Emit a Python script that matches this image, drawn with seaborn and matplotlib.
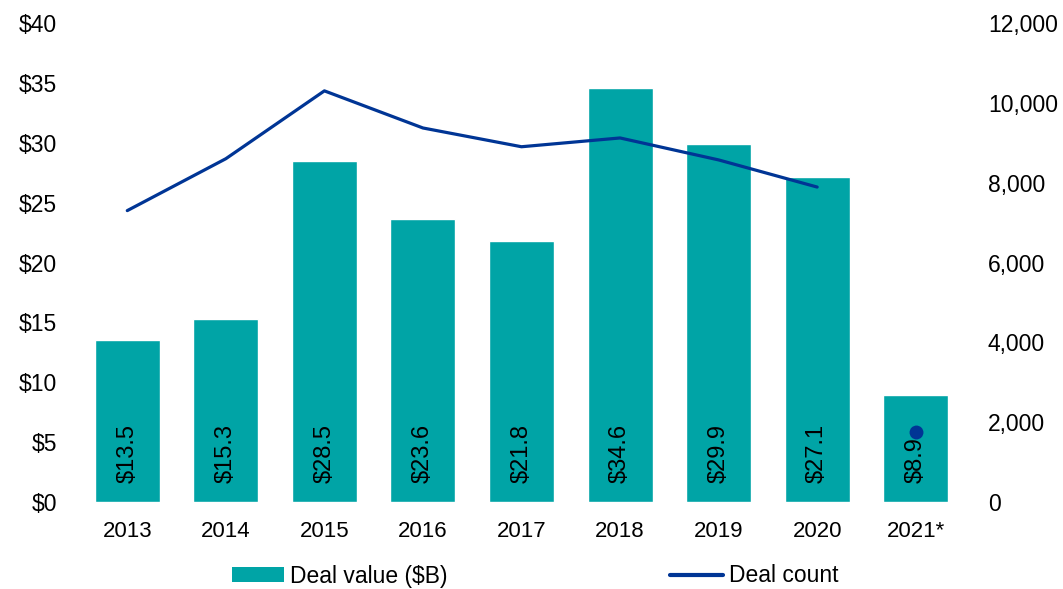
import matplotlib
matplotlib.use("Agg")
import matplotlib.pyplot as plt
import seaborn as sns
import pandas as pd
from matplotlib.patches import Patch
from matplotlib.lines import Line2D

years = ["2013", "2014", "2015", "2016", "2017", "2018", "2019", "2020", "2021*"]
deal_value = [13.5, 15.3, 28.5, 23.6, 21.8, 34.6, 29.9, 27.1, 8.9]
deal_count = [7300, 8600, 10300, 9370, 8900, 9120, 8570, 7890, 1750]

BAR_C = "#00A4A6"
LINE_C = "#003595"

sns.set_theme(style="white")
plt.rcParams['font.family'] = ['Liberation Sans', 'DejaVu Sans']
plt.rcParams['text.color'] = 'black'
plt.rcParams['xtick.color'] = 'black'
plt.rcParams['ytick.color'] = 'black'

df = pd.DataFrame({"year": years, "value": deal_value, "count": deal_count})

fig = plt.figure(figsize=(10.63, 5.89), dpi=100)
ax = fig.add_axes([78/1063, 1 - 502/589, (965-78)/1063, (502-23)/589])
sns.barplot(data=df, x="year", y="value", color=BAR_C, width=0.66, ax=ax, saturation=1)
ax.set_ylim(0, 40)
ax.set_yticks(range(0, 41, 5))
ax.set_yticklabels([f"${v}" for v in range(0, 41, 5)], fontsize=16.5)
ax.set_xlabel("")
ax.set_ylabel("")
ax.tick_params(axis='x', labelsize=16, length=0, pad=14, colors='black')
ax.tick_params(axis='y', length=0, pad=15, colors='black')
for s in ax.spines.values():
    s.set_visible(False)

for i, v in enumerate(deal_value):
    ax.text(i, 1.6, f"${v}", rotation=90, ha='center', va='bottom', fontsize=17, color='black')

ax2 = ax.twinx()
x_idx = list(range(len(years)))
sns.lineplot(x=x_idx[:8], y=deal_count[:8], color=LINE_C, linewidth=2.3, ax=ax2)
ax2.scatter([x_idx[8]], [deal_count[8]], color=LINE_C, s=100, zorder=5, linewidths=0)
ax2.set_ylim(0, 12000)
ax2.set_yticks(range(0, 12001, 2000))
ax2.set_yticklabels([f"{v:,}" for v in range(0, 12001, 2000)], fontsize=16.5)
ax2.tick_params(axis='y', length=0, pad=16.5, colors='black')
ax2.set_xlim(-0.5, 8.5)
ax.set_xlim(-0.5, 8.5)
for s in ax2.spines.values():
    s.set_visible(False)
ax2.grid(False)
ax.grid(False)

handles = [Patch(facecolor=BAR_C, edgecolor='none'), Line2D([0], [0], color=LINE_C, lw=3)]
fig.legend(handles, ["Deal value ($B)", "Deal count"], loc='center', bbox_to_anchor=(535/1063, 1 - 576/589),
           ncol=2, frameon=False, fontsize=16.5, handlelength=2.3, handleheight=0.6, handletextpad=0.26,
           columnspacing=9.7, borderaxespad=0, labelcolor='black')

fig.savefig("out.png", dpi=100)
